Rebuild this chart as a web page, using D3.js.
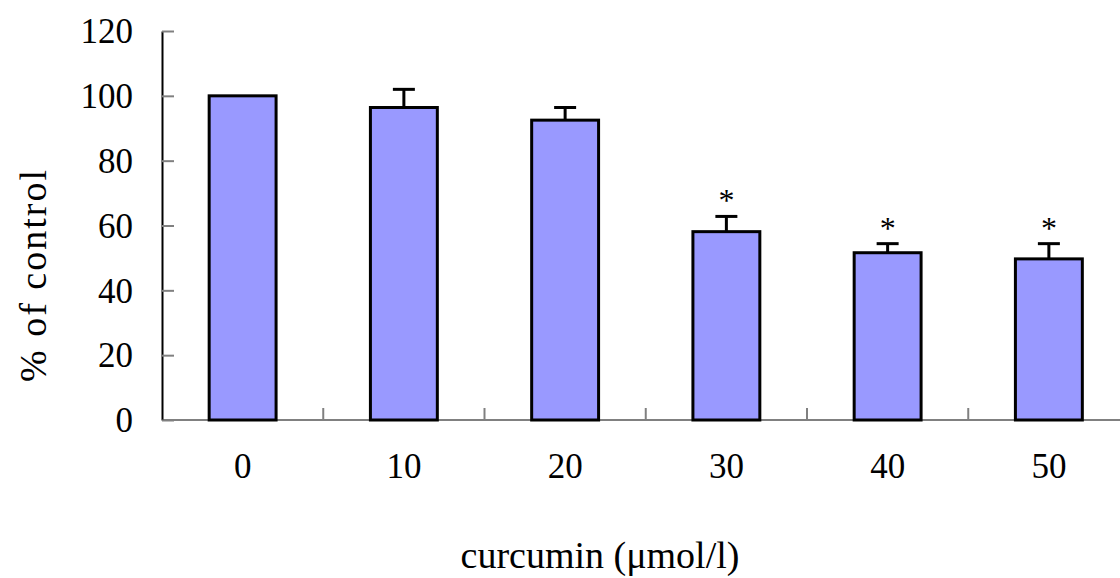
<!DOCTYPE html>
<html lang="en">
<head>
<meta charset="utf-8">
<title>curcumin % of control</title>
<script src="https://cdn.jsdelivr.net/npm/d3@7"></script>
<style>
	body { margin: 0; background: #fff; }
	text { font-family: "Liberation Serif", "Times New Roman", serif; fill: #000; }
</style>
</head>
<body>
<script>
// data
var doses = ["0", "10", "20", "30", "40", "50"];
var means = [100, 96.4, 92.5, 58.1, 51.6, 49.7];
var errors = [0, 5.6, 3.9, 4.7, 2.8, 4.7];
var significant = [false, false, false, true, true, true];
var yTicks = [0, 20, 40, 60, 80, 100, 120];

var w = 1120, h = 578;
var plotLeft = 162, plotRight = 1129.5, plotTop = 31, plotBottom = 420;

var svg = d3.select("body").append("svg")
	.attr("width", w)
	.attr("height", h);

var x = d3.scaleBand().domain(doses).range([plotLeft, plotRight]).paddingInner(0).paddingOuter(0);
var barW = x.bandwidth() * 0.415;
var y = d3.scaleLinear().domain([0, 120]).range([plotBottom, plotTop]);

function cx(d) { return x(d) + x.bandwidth() / 2; }

// x axis line + category boundary ticks
svg.append("line")
	.attr("x1", plotLeft).attr("x2", plotRight)
	.attr("y1", plotBottom).attr("y2", plotBottom)
	.attr("stroke", "#808080").attr("stroke-width", 2);
svg.append("g").selectAll("line")
	.data(doses.slice(1))
	.enter().append("line")
	.attr("x1", function(d) { return x(d); })
	.attr("x2", function(d) { return x(d); })
	.attr("y1", plotBottom).attr("y2", plotBottom - 12)
	.attr("stroke", "#808080").attr("stroke-width", 2);

// y axis (ticks point inward)
var yAxis = svg.append("g")
	.attr("transform", "translate(" + plotLeft + ",0)")
	.call(d3.axisRight(y).tickValues(yTicks).tickSize(12).tickSizeOuter(0).tickFormat(""));
yAxis.select(".domain").attr("stroke", "#000").attr("stroke-width", 2);
yAxis.selectAll(".tick line").attr("stroke", "#808080").attr("stroke-width", 2);

svg.append("g").selectAll("text")
	.data(yTicks)
	.enter().append("text")
	.attr("x", 133)
	.attr("y", function(d) { return y(d); })
	.attr("dy", "0.35em")
	.attr("text-anchor", "end")
	.style("font-size", "35px")
	.text(function(d) { return d; });

svg.append("g").selectAll("text")
	.data(doses)
	.enter().append("text")
	.attr("x", cx)
	.attr("y", 466)
	.attr("dy", "0.35em")
	.attr("text-anchor", "middle")
	.style("font-size", "35px")
	.text(function(d) { return d; });

// error bars (upper only)
var eb = svg.append("g").selectAll("g")
	.data(doses)
	.enter().append("g");
eb.append("line")
	.attr("x1", cx)
	.attr("x2", cx)
	.attr("y1", function(d, i) { return y(means[i]); })
	.attr("y2", function(d, i) { return y(means[i] + errors[i]); })
	.attr("stroke", "#000").attr("stroke-width", 3);
eb.filter(function(d, i) { return errors[i] > 0; })
	.append("line")
	.attr("x1", function(d) { return cx(d) - 11; })
	.attr("x2", function(d) { return cx(d) + 11; })
	.attr("y1", function(d) { var i = doses.indexOf(d); return y(means[i] + errors[i]); })
	.attr("y2", function(d) { var i = doses.indexOf(d); return y(means[i] + errors[i]); })
	.attr("stroke", "#000").attr("stroke-width", 3);

// bars
svg.append("g").selectAll("rect")
	.data(doses)
	.enter().append("rect")
	.attr("x", function(d) { return x(d) + (x.bandwidth() - barW) / 2; })
	.attr("y", function(d, i) { return y(means[i]); })
	.attr("width", barW)
	.attr("height", function(d, i) { return plotBottom - y(means[i]); })
	.attr("fill", "#9999ff")
	.attr("stroke", "#000")
	.attr("stroke-width", 3);

// significance asterisks
svg.append("g").selectAll("text")
	.data(doses.filter(function(d, i) { return significant[i]; }))
	.enter().append("text")
	.attr("x", cx)
	.attr("y", function(d) { var i = doses.indexOf(d); return y(means[i] + errors[i]) - 5; })
	.attr("text-anchor", "middle")
	.style("font-size", "32px")
	.text("*");

// axis titles
svg.append("text")
	.attr("x", 600)
	.attr("y", 555)
	.attr("dy", "0.35em")
	.attr("text-anchor", "middle")
	.style("font-size", "38px")
	.text("curcumin (\u03bcmol/l)");

svg.append("text")
	.attr("transform", "translate(33,275) rotate(-90)")
	.attr("dy", "0.35em")
	.attr("text-anchor", "middle")
	.style("font-size", "38px")
	.style("letter-spacing", "2px")
	.text("% of control");
</script>
</body>
</html>
